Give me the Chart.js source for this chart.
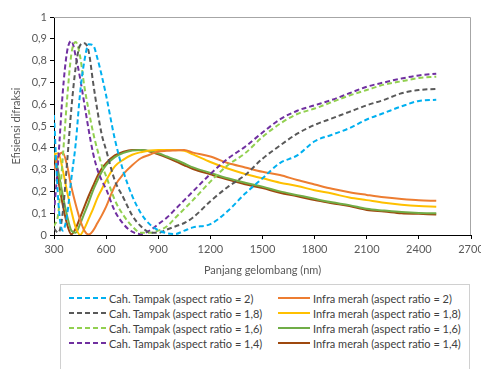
<!DOCTYPE html>
<html>
<head>
<meta charset="utf-8">
<script src="https://cdn.jsdelivr.net/npm/chart.js@4.4.0/dist/chart.umd.min.js"></script>
<style>
  body { margin: 0; background: #fff; }
  #wrap { position: relative; width: 481px; height: 369px; overflow: hidden; font-family: Lato, "Liberation Sans", sans-serif; }
  #chart { position: absolute; left: 0; top: 0; }
  #legend {
    position: absolute; left: 60px; top: 284px; width: 410px; height: 100px;
    border: 1px solid #d0d0d0; box-sizing: border-box;
  }
  .item { position: absolute; height: 14px; display: flex; align-items: center; font-size: 11px; color: #404040; white-space: nowrap; }
  .item svg { margin-right: 3px; }
</style>
</head>
<body>
<div id="wrap">
  <canvas id="chart" width="481" height="280"></canvas>
  <div id="legend"></div>
</div>
<script>
// Wavelength grid (nm)
const wavelengths = [300, 325, 350, 375, 400, 425, 450, 475, 500, 525, 550, 575, 600, 650, 700, 750, 800, 850, 900, 950, 1000, 1050, 1100, 1200, 1300, 1400, 1500, 1600, 1700, 1800, 1900, 2000, 2100, 2200, 2300, 2400, 2500];

// Visible light (dashed)
const tampak20 = [0.55, 0.15, 0.02, 0.09, 0.26, 0.42, 0.65, 0.8, 0.875, 0.87, 0.81, 0.73, 0.64, 0.44, 0.29, 0.18, 0.1, 0.05, 0.022, 0.008, 0.005, 0.02, 0.035, 0.05, 0.11, 0.19, 0.26, 0.33, 0.365, 0.43, 0.46, 0.49, 0.53, 0.56, 0.59, 0.615, 0.62];
const tampak18 = [0.03, 0.01, 0.1, 0.33, 0.58, 0.77, 0.87, 0.88, 0.84, 0.7, 0.57, 0.46, 0.39, 0.25, 0.17, 0.09, 0.04, 0.012, 0.01, 0.025, 0.04, 0.055, 0.08, 0.155, 0.22, 0.275, 0.35, 0.41, 0.465, 0.505, 0.535, 0.565, 0.595, 0.62, 0.65, 0.665, 0.67];
const tampak16 = [0.04, 0.1, 0.35, 0.62, 0.83, 0.885, 0.82, 0.68, 0.57, 0.47, 0.39, 0.32, 0.27, 0.16, 0.09, 0.04, 0.01, 0.01, 0.02, 0.04, 0.08, 0.12, 0.16, 0.245, 0.32, 0.375, 0.45, 0.51, 0.555, 0.58, 0.61, 0.64, 0.665, 0.69, 0.705, 0.72, 0.726];
const tampak14 = [0.1, 0.35, 0.65, 0.84, 0.89, 0.82, 0.72, 0.6, 0.48, 0.375, 0.3, 0.25, 0.21, 0.11, 0.05, 0.015, 0.005, 0.02, 0.05, 0.08, 0.12, 0.16, 0.2, 0.28, 0.35, 0.405, 0.47, 0.53, 0.57, 0.595, 0.62, 0.65, 0.68, 0.7, 0.718, 0.732, 0.74];

// Infrared (solid)
const infra20 = [0.3, 0.36, 0.378, 0.32, 0.22, 0.14, 0.07, 0.02, 0.002, 0.02, 0.055, 0.09, 0.13, 0.225, 0.28, 0.32, 0.352, 0.368, 0.383, 0.386, 0.388, 0.39, 0.378, 0.36, 0.33, 0.31, 0.29, 0.275, 0.252, 0.232, 0.212, 0.196, 0.184, 0.173, 0.165, 0.159, 0.157];
const infra18 = [0.37, 0.375, 0.3, 0.2, 0.11, 0.035, 0.0, 0.03, 0.075, 0.12, 0.17, 0.21, 0.25, 0.315, 0.346, 0.368, 0.38, 0.388, 0.39, 0.39, 0.39, 0.386, 0.37, 0.335, 0.305, 0.28, 0.26, 0.24, 0.225, 0.205, 0.19, 0.172, 0.16, 0.148, 0.139, 0.133, 0.13];
const infra16 = [0.38, 0.29, 0.185, 0.09, 0.02, 0.01, 0.05, 0.1, 0.15, 0.205, 0.25, 0.29, 0.32, 0.357, 0.377, 0.388, 0.39, 0.385, 0.375, 0.36, 0.345, 0.328, 0.31, 0.285, 0.26, 0.24, 0.222, 0.2, 0.183, 0.166, 0.15, 0.137, 0.12, 0.112, 0.105, 0.101, 0.1];
const infra14 = [0.38, 0.25, 0.14, 0.05, 0.003, 0.03, 0.08, 0.13, 0.18, 0.225, 0.27, 0.305, 0.33, 0.365, 0.382, 0.39, 0.39, 0.383, 0.37, 0.355, 0.338, 0.32, 0.303, 0.278, 0.254, 0.233, 0.215, 0.194, 0.178, 0.16, 0.146, 0.133, 0.115, 0.108, 0.1, 0.097, 0.094];

const seriesLabels = [
  "Cah. Tampak (aspect ratio = 2)", "Cah. Tampak (aspect ratio = 1,8)",
  "Cah. Tampak (aspect ratio = 1,6)", "Cah. Tampak (aspect ratio = 1,4)",
  "Infra merah (aspect ratio = 2)", "Infra merah (aspect ratio = 1,8)",
  "Infra merah (aspect ratio = 1,6)", "Infra merah (aspect ratio = 1,4)"
];

const xTickValues = [300, 600, 900, 1200, 1500, 1800, 2100, 2400, 2700];
const xTickLabels = ["300", "600", "900", "1200", "1500", "1800", "2100", "2400", "2700"];
const yTickValues = [0, 0.1, 0.2, 0.3, 0.4, 0.5, 0.6, 0.7, 0.8, 0.9, 1];
const yTickLabels = ["0", "0,1", "0,2", "0,3", "0,4", "0,5", "0,6", "0,7", "0,8", "0,9", "1"];

const allSeries = [tampak20, tampak18, tampak16, tampak14, infra20, infra18, infra16, infra14];
const colors = ["#00B0F0", "#595959", "#92D050", "#7030A0", "#ED7D31", "#FFC000", "#70AD47", "#9E480E"];

const datasets = allSeries.map((values, i) => ({
  label: seriesLabels[i],
  data: wavelengths.map((w, j) => ({ x: w, y: values[j] })),
  borderColor: colors[i],
  backgroundColor: colors[i],
  borderWidth: 2,
  borderDash: i < 4 ? [5, 3] : [],
  pointRadius: 0,
  cubicInterpolationMode: "monotone",
  fill: false,
}));

// Thin grey frame on top and right of the plot area
const plotFrame = {
  id: "plotFrame",
  afterDraw(chart) {
    const { ctx, chartArea: a } = chart;
    ctx.save();
    ctx.strokeStyle = "#a6a6a6";
    ctx.lineWidth = 1;
    ctx.beginPath();
    ctx.moveTo(a.left, a.top + 0.5);
    ctx.lineTo(a.right - 0.5, a.top + 0.5);
    ctx.lineTo(a.right - 0.5, a.bottom);
    ctx.stroke();
    ctx.restore();
  },
};

const font = { family: "Lato, 'Liberation Sans', sans-serif", size: 11 };

const chart = new Chart(document.getElementById("chart").getContext("2d"), {
  type: "line",
  data: { datasets },
  options: {
    responsive: false,
    animation: false,
    layout: { padding: { left: 0, right: 10, top: 17, bottom: 0 } },
    plugins: { legend: { display: false }, tooltip: { enabled: false } },
    scales: {
      x: {
        type: "linear",
        min: 300,
        max: 2700,
        afterBuildTicks: (scale) => { scale.ticks = xTickValues.map((v) => ({ value: v })); },
        afterFit: (scale) => { scale.height = 45; scale.paddingLeft = 0; scale.paddingRight = 0; },
        ticks: { color: "#595959", font, padding: 4, maxRotation: 0, autoSkip: false, callback: (v, i) => xTickLabels[i] },
        grid: { drawOnChartArea: false, drawTicks: true, tickLength: 4, tickColor: "#000" },
        border: { color: "#000", width: 1 },
        title: { display: true, text: "Panjang gelombang (nm)", color: "#595959", font, padding: { top: 0, bottom: 3 } },
      },
      y: {
        min: 0,
        max: 1,
        afterBuildTicks: (scale) => { scale.ticks = yTickValues.map((v) => ({ value: v })); },
        afterFit: (scale) => { scale.width = 54; },
        ticks: { color: "#595959", font, padding: 3, callback: (v, i) => yTickLabels[i] },
        grid: { drawOnChartArea: false, drawTicks: true, tickLength: 4, tickColor: "#000" },
        border: { color: "#000", width: 1 },
        title: { display: true, text: "Efisiensi difraksi", color: "#595959", font, padding: { top: 10, bottom: 0 } },
      },
    },
  },
  plugins: [plotFrame],
});

// Two-column legend in a bordered box below the chart
const legend = document.getElementById("legend");
chart.data.datasets.forEach((ds, i) => {
  const col = i < 4 ? 0 : 1;
  const row = i % 4;
  const item = document.createElement("div");
  item.className = "item";
  item.style.left = (col === 0 ? 8 : 217) + "px";
  item.style.top = (6 + row * 15) + "px";
  const w = col === 0 ? 37 : 32;
  const dash = ds.borderDash.length ? `stroke-dasharray="${ds.borderDash.join(" ")}"` : "";
  item.innerHTML =
    `<svg width="${w}" height="4"><line x1="0" y1="2" x2="${w}" y2="2" stroke="${ds.borderColor}" stroke-width="2" ${dash}/></svg>` +
    `<span>${ds.label}</span>`;
  legend.appendChild(item);
});
</script>
</body>
</html>
